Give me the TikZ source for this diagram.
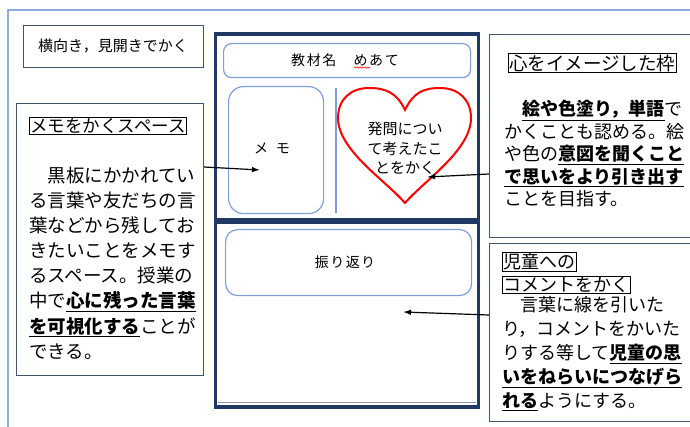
\documentclass[tikz,border=0pt]{standalone}
\usepackage{fontspec}
\newfontfamily\jp{Noto Sans CJK JP}
\usetikzlibrary{arrows.meta,decorations.pathmorphing}
\definecolor{outerblue}{HTML}{8FAADC}
\definecolor{navy}{HTML}{1F3864}
\definecolor{boxline}{HTML}{44546A}
\definecolor{lightblue}{HTML}{7F9ED8}
\newcommand\myul[1]{\underline{\textbf{#1}}}
\newcommand\fs[1]{\fontsize{#1}{#1}\selectfont}
\begin{document}
\begin{tikzpicture}[x=1pt,y=-1pt,
  every node/.style={font=\jp, inner sep=0pt},
  textbox/.style={draw=boxline, line width=1.1pt, anchor=north west},
  softbox/.style={draw=lightblue, line width=1.2pt, anchor=north west},
  headbox/.style={draw=black, line width=0.7pt, inner sep=1pt, anchor=west},
  linetext/.style={anchor=base west},
  conn/.style={-{Latex[length=8pt,width=5.5pt]}, line width=1.2pt, black}]
\useasboundingbox (0,0) rectangle (690,427);
\clip (0,0) rectangle (690,427);

% outer page frame
\draw[outerblue, line width=1.5pt] (8,440) -- (8,10) -- (700,10);

% title box
\node[textbox, minimum width=180pt, minimum height=42pt] (title) at (23,25) {};
\node[font=\jp\fs{15}] (titletext) at (113,46) {横向き，見開きでかく};

% left info box
\node[textbox, minimum width=187pt, minimum height=272pt] (memoinfo) at (16,103) {};
\node[headbox, font=\jp\fs{17.5}] (memohead) at (29,126) {メモをかくスペース};
\node[linetext, font=\jp\fs{18.5}] (m1) at (29,183) {　黒板にかかれてい};
\node[linetext, font=\jp\fs{18.5}] (m2) at (29,208) {る言葉や友だちの言};
\node[linetext, font=\jp\fs{18.5}] (m3) at (29,233) {葉などから残してお};
\node[linetext, font=\jp\fs{18.5}] (m4) at (29,258) {きたいことをメモす};
\node[linetext, font=\jp\fs{18.5}] (m5) at (29,283) {るスペース。授業の};
\node[linetext, font=\jp\fs{18.5}] (m6) at (29,308) {中で\myul{心に残った言葉}};
\node[linetext, font=\jp\fs{18.5}] (m7) at (29,333) {\myul{を可視化する}ことが};
\node[linetext, font=\jp\fs{18.5}] (m8) at (29,358) {できる。};

% main sheet frame
\draw[navy, line width=3.5pt] (215.5,34) rectangle (478.5,220);
\draw[navy, line width=3.5pt] (215.5,222.5) rectangle (478.5,407);
\draw[boxline!60, line width=0.8pt] (218,402.5) -- (476,402.5);

% top inner boxes
\node[softbox, rounded corners=8pt, minimum width=247pt, minimum height=34pt] (goal) at (223,43) {};
\node[font=\jp\fs{14}] (goaltext) at (345,60) {教\kern1.6pt 材\kern1.6pt 名\kern1.6pt 　\kern1.6pt め\kern1.6pt あ\kern1.6pt て};
\draw[red, line width=0.5pt, decorate, decoration={snake, amplitude=0.7pt, segment length=2.6pt}] (354,67.5) -- (370,67.5);

\node[softbox, rounded corners=15pt, minimum width=95pt, minimum height=127pt] (memo) at (228,86) {};
\node[font=\jp\fs{14}] (memotext) at (272,148) {メ\kern8pt モ};
\draw[lightblue, line width=1.2pt] (336,88) -- (336,213);

% heart
\draw[red, line width=2pt] (405,110) .. controls (397,93) and (386,88) .. (369,88)
  .. controls (350,88) and (338,100) .. (338,118)
  .. controls (338,150) and (385,180) .. (405,203)
  .. controls (425,180) and (471,150) .. (471,118)
  .. controls (471,100) and (459,88) .. (440,88)
  .. controls (423,88) and (413,93) .. (405,110) -- cycle;
\node[anchor=base, font=\jp\fs{15}] (h1) at (405,134.7) {発問につい};
\node[anchor=base, font=\jp\fs{15}] (h2) at (405,154.2) {て考えたこ};
\node[anchor=base, font=\jp\fs{15}] (h3) at (405,173.7) {とをかく};

% bottom inner box
\node[softbox, rounded corners=12pt, minimum width=246pt, minimum height=66pt] (review) at (225,229) {};
\node[font=\jp\fs{14}] (reviewtext) at (345,262) {振\kern1.5pt り\kern1.5pt 返\kern1.5pt り};

% right box 1
\node[textbox, minimum width=215pt, minimum height=203pt] (heartinfo) at (489,34) {};
\node[headbox, font=\jp\fs{18.5}] (hearthead) at (508,63) {心をイメージした枠};
\node[linetext, font=\jp\fs{18}] (r1) at (504,115.8) {　\myul{絵や色塗り，単語}で};
\node[linetext, font=\jp\fs{18}] (r2) at (504,138.3) {かくことも認める。絵};
\node[linetext, font=\jp\fs{18}] (r3) at (504,160.8) {や色の\myul{意図を聞くこと}};
\node[linetext, font=\jp\fs{18}] (r4) at (504,183.3) {\myul{で思いをより引き出す}};
\node[linetext, font=\jp\fs{18}] (r5) at (504,205.8) {ことを目指す。};

% right box 2
\node[textbox, minimum width=215pt, minimum height=178pt] (commentinfo) at (489,243) {};
\node[headbox, font=\jp\fs{18}] (commhead1) at (502,262) {児童への};
\node[headbox, font=\jp\fs{18}] (commhead2) at (502,285) {コメントをかく};
\node[linetext, font=\jp\fs{18}] (c1) at (502,311.8) {　言葉に線を引いた};
\node[linetext, font=\jp\fs{18}] (c2) at (502,335.8) {り，コメントをかいた};
\node[linetext, font=\jp\fs{18}] (c3) at (502,359.8) {りする等して\myul{児童の思}};
\node[linetext, font=\jp\fs{18}] (c4) at (502,383.8) {\myul{いをねらいにつなげら}};
\node[linetext, font=\jp\fs{18}] (c5) at (502,407.8) {\myul{れる}ようにする。};

% connectors
\coordinate (s1) at (memoinfo.east |- 0,167);
\coordinate (t1) at (260,170);
\coordinate (s2) at (heartinfo.west |- 0,174);
\coordinate (t2) at (427,177);
\coordinate (s3) at (commentinfo.west |- 0,315);
\coordinate (t3) at (403,312);
\draw[conn] (s1) -- (t1);
\draw[conn] (s2) -- (t2);
\draw[conn] (s3) -- (t3);
\end{tikzpicture}
\end{document}
